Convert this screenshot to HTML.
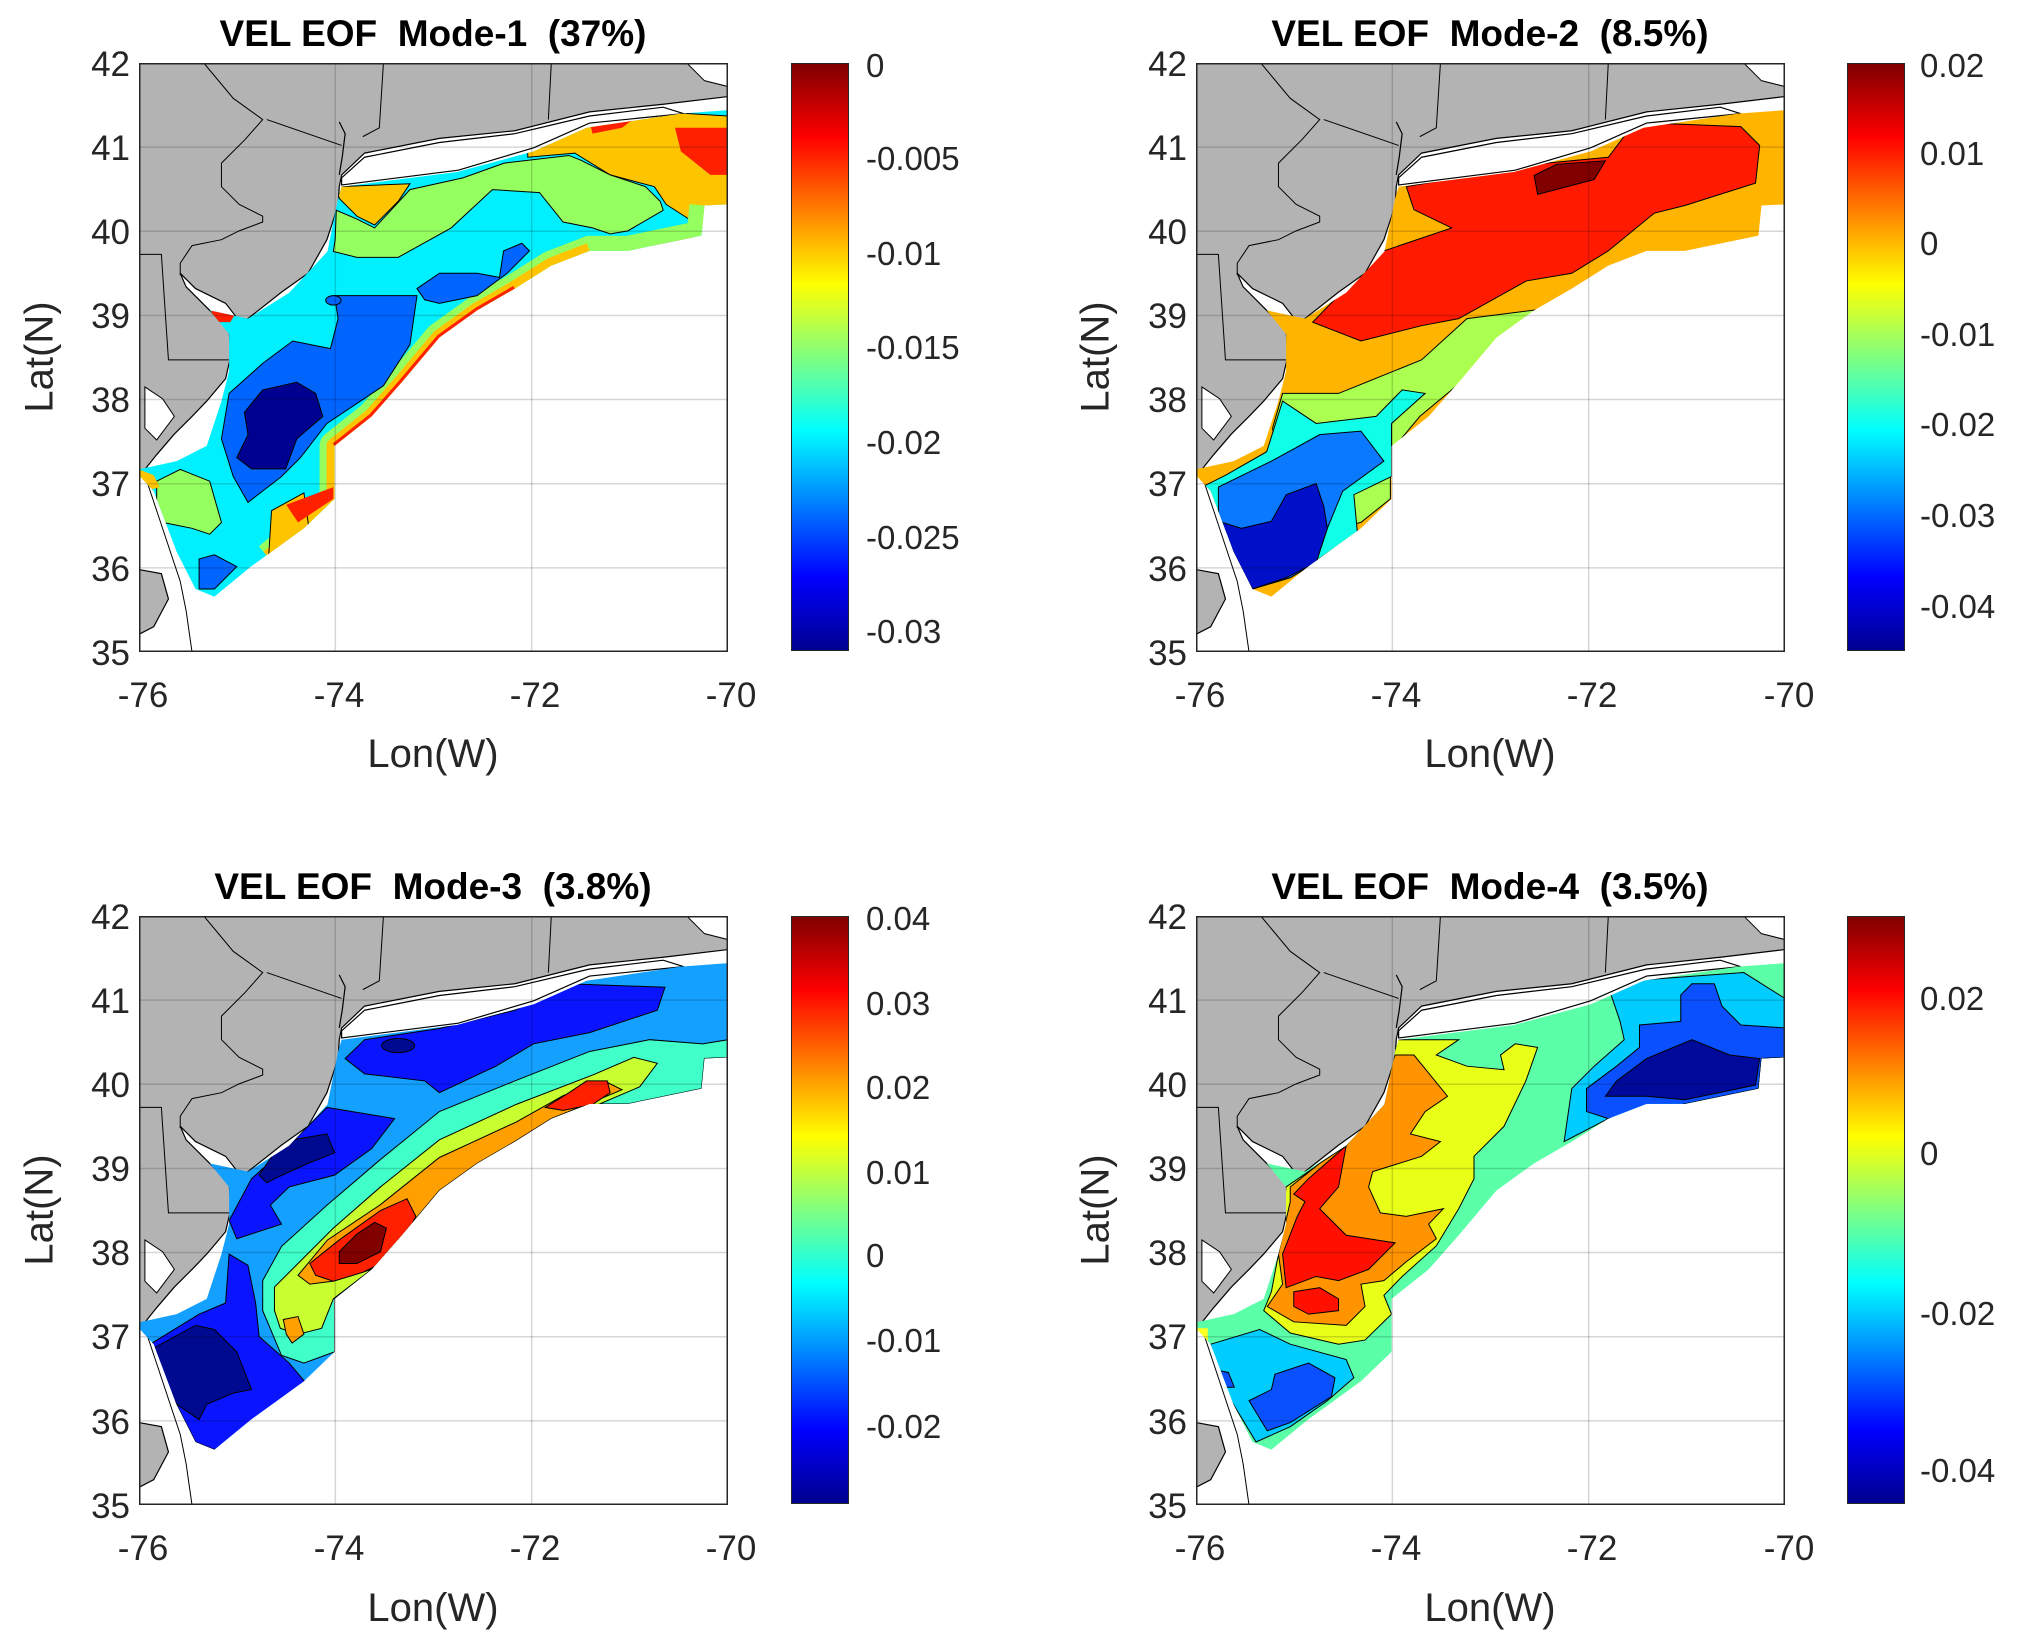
<!DOCTYPE html>
<html><head><meta charset="utf-8"><style>
body{margin:0;background:#fff;width:2024px;height:1648px;position:relative;overflow:hidden;font-family:"Liberation Sans",Arial,sans-serif;color:#262626}
.ax{position:absolute;width:589px;height:589px}
.ax svg{position:absolute;left:0;top:0;width:589px;height:589px}
svg *{vector-effect:non-scaling-stroke}
.title{position:absolute;font-weight:bold;font-size:37px;color:#000;white-space:nowrap;transform:translateX(-50%)}
.yt{position:absolute;font-size:35px;text-align:right;width:60px;transform:translateY(-50%)}
.xt{position:absolute;font-size:35px;transform:translateX(-50%)}
.cbt{position:absolute;font-size:33px;transform:translateY(-50%)}
.lon{position:absolute;font-size:40px;transform:translateX(-50%)}
.lat{position:absolute;font-size:40px;transform:translate(-50%,-50%) rotate(-90deg)}
.cb{position:absolute;width:56px;height:586px;border:1.5px solid #262626;background:linear-gradient(to top,#00008f 0%,#0000ff 12.5%,#00ffff 37.5%,#80ff80 50%,#ffff00 62.5%,#ff0000 87.5%,#800000 100%)}
</style></head><body>

<svg width="0" height="0" style="position:absolute">
<defs>
<clipPath id="oc"><polygon points="34.4,21 54,18.5 67,15 76,11 92,8.6 100,8 100,24 96,24.2 95.5,29.3 83,31.9 76.5,31.9 70,34.4 63.8,38.3 57.4,42 51,46.6 44.6,54.2 39.5,60 33.2,65 33.2,74 28,79 19,85.5 12.8,90.6 9.6,89.3 6.4,83 2.5,72.7 0,70 0,69 6.4,67.6 11.5,65 14,57.4 15.3,52.3 15.3,46 12,42 18.5,43.4 25.5,39 32,32 33.8,23"/></clipPath>
<g id="land">
<rect width="100" height="100" fill="#fff"/>
<polygon fill="#b3b3b3" stroke="#000" stroke-width="1.2" points="0,0 100,0 100,5.7 89,7 76.5,8.3 63.8,11.5 51,12.8 38.3,15.3 34.4,19 34,21 33.8,24.2 31.9,30 28.7,35.7 24.2,38.9 18.5,43.4 17.2,44 14.7,40.8 9.6,38.3 7,35.7 8,38 11.5,41.5 15.3,45.3 15.6,49.7 14.7,53.6 11.5,57.4 9,60 6,63 3,66.5 1,69 0,69.5"/>
<polygon fill="#fff" stroke="#000" stroke-width="1" points="93,0 100,0 100,4 96,3"/>
<polygon fill="#b3b3b3" stroke="#000" stroke-width="1.2" points="0,86 3.8,86.7 5,91 2.5,95.7 0,97"/>
<polygon fill="#fff" stroke="#000" stroke-width="1.2" points="34.4,19.5 38.3,16 51,13.5 63.8,12 76.5,9 89,7.5 92.5,8.6 76.5,10.2 67,14.4 54.2,18.2 34.4,20.7"/>
<polygon fill="#fff" stroke="#000" stroke-width="1" points="1,55 4,57 6,60 3,64 1,62"/>
<polyline fill="none" stroke="#000" stroke-width="1" points="21.7,9.6 34.4,14"/>
<polyline fill="none" stroke="#000" stroke-width="1.2" points="34,10 35,12 34.5,16 34,19"/>
<polyline fill="none" stroke="#000" stroke-width="1" points="41.5,0 40.8,11 38,12.5"/>
<polyline fill="none" stroke="#000" stroke-width="1" points="70,0 69.5,9.6"/>
<polyline fill="none" stroke="#000" stroke-width="1" points="0,32.5 3.8,32.5 5,50.4 15.3,50.4"/>
<polyline fill="none" stroke="#000" stroke-width="1" points="11,0 16,6 21,9.6 18,13 14,17 14,21 17,24 21,26 21,27 17,28.5 14,30 9,31 7,34 7,36"/>
<polyline fill="none" stroke="#000" stroke-width="1" points="1,70 3,76 5,82 7,88 8,93 9,100"/>
</g>
<g id="grid">
<g stroke="#000" stroke-opacity="0.16" stroke-width="1.5">
<line x1="33.33" y1="0" x2="33.33" y2="100"/><line x1="66.67" y1="0" x2="66.67" y2="100"/>
<line x1="0" y1="14.29" x2="100" y2="14.29"/><line x1="0" y1="28.57" x2="100" y2="28.57"/><line x1="0" y1="42.86" x2="100" y2="42.86"/><line x1="0" y1="57.14" x2="100" y2="57.14"/><line x1="0" y1="71.43" x2="100" y2="71.43"/><line x1="0" y1="85.71" x2="100" y2="85.71"/>
</g>
<rect x="0" y="0" width="100" height="100" fill="none" stroke="#262626" stroke-width="3"/>
</g>
</defs></svg>

<!-- Panel 1 -->
<div class="title" style="left:433px;top:13px">VEL EOF&nbsp; Mode-1&nbsp; (37%)</div>
<div class="ax" style="left:139px;top:63px">
<svg viewBox="0 0 100 100" preserveAspectRatio="none">
<use href="#land"/>
<g clip-path="url(#oc)" stroke="#000" stroke-width="1">
<rect width="100" height="100" fill="#00f0ff" stroke="none"/>
<polygon fill="#ffc400" points="66,15 76,9.5 92,8.5 100,9 100,28 96.5,28.5 89.5,24 87.5,21 80,19 74,15.3 66,16"/>
<polygon fill="#ffc400" points="33.5,21 46,20.5 44,23.5 40,27.5 37,26 34,23"/>
<polygon fill="#ff2000" stroke="none" points="91,11 100,11 100,19 97,19 92,15"/>
<polygon fill="#ff2000" stroke="none" points="76,8 86,8 82,11 77,12"/>
<polygon fill="#ff2000" stroke="none" points="64,12 70,11 68,14 64,14"/>
<polygon fill="#ff2000" stroke="none" points="84,30 92,28.5 95,30 88,31.5"/>
<polygon fill="#ff2000" stroke="none" points="12,41.5 17,41.5 15.5,44 13,44"/>
<polygon fill="#96ff60" points="33.3,30 33.5,25 37,26.5 40,28 46,21.5 55,19.5 62,17 73,15.7 75,16.5 80,19 86,21 88.5,23.5 89,25 83,28.5 80,29 77,28 72,27 68,22 60,21.5 53,28 44,33 37,33 33,32"/>
<polyline fill="none" stroke="#96ff60" stroke-width="30" stroke-linejoin="round" points="96,24.2 95.5,29.3 83,31.9 76.5,31.9 70,34.4 63.8,38.3 57.4,42 51,46.6 44.6,54.2 39.5,60 33.2,65 33.2,74 28,79 22,84"/>
<polyline fill="none" stroke="#ffc400" stroke-width="16" stroke-linejoin="round" points="76.5,31.9 70,34.4 63.8,38.3 57.4,42 51,46.6 44.6,54.2 39.5,60 33.2,65 33.2,74 28,79 22,84"/>
<polyline fill="none" stroke="#ff2000" stroke-width="6" stroke-linejoin="round" points="63.8,38.3 57.4,42 51,46.6 44.6,54.2 39.5,60 33.2,65"/>
<polygon fill="#ffc400" points="22.5,76 28,73 29,80 22,84"/>
<polygon fill="#ff2000" stroke="none" points="25,75 33,72 33,74 27,78"/>
<polygon fill="#0064ff" points="33.2,39.5 47.2,39.5 46,47.8 41.5,54.8 31.9,61.2 27.4,67 24.2,70.2 18.5,74.6 16,70.2 14,63.8 15.3,56.1 21,51 26.1,47.2 32.5,48.5 33.8,43.4"/>
<polygon fill="#0064ff" points="47.2,38.3 51,35.7 57.4,35.7 61.2,36.4 61.9,31.9 65,30.6 66.3,31.9 62.5,35.7 57.4,39.5 51,40.8 48.5,40.2"/>
<ellipse cx="33" cy="40.3" rx="1.3" ry="0.8" fill="#0064ff"/>
<polygon fill="#000090" points="17.9,59.3 21,55.5 26.8,54.2 30,56.1 31.2,60 26.8,63.8 24.9,68.9 19.1,68.9 16.6,67 18.5,63.1"/>
<polygon fill="#0064ff" points="10.2,84.2 12.8,83.5 16.6,85.5 12.8,89.3 10.2,89.3"/>
<polygon fill="#96ff60" points="3,71 7,69 12,71 14,78 12,80 9,79 4,78 3,75"/>
<polygon fill="#ffc400" stroke="none" points="0,69 2.5,70 3.5,72 0,73"/>
</g>
<use href="#grid"/>
</svg></div>
<div class="cb" style="left:791px;top:63px"></div>

<!-- Panel 2 -->
<div class="title" style="left:1490px;top:13px">VEL EOF&nbsp; Mode-2&nbsp; (8.5%)</div>
<div class="ax" style="left:1196px;top:63px">
<svg viewBox="0 0 100 100" preserveAspectRatio="none">
<use href="#land"/>
<g clip-path="url(#oc)" stroke="#000" stroke-width="1">
<rect width="100" height="100" fill="#ffb400" stroke="none"/>
<polygon fill="#ff1a00" points="35.7,21 57.4,17.2 70,16 75.3,9 77.8,10.2 92.5,10.8 95.7,14 95,20.4 83,24.2 77.8,25.5 70,31.9 63.8,35.7 56.1,37 44.6,43.4 38.3,44.6 28,47.2 19.8,44 24.2,39.5 31.9,31.9 43.4,28 37,24.9"/>
<polygon fill="#800000" points="57.4,19.1 61.2,17.2 69.5,16.6 67.6,19.8 58,22.3"/>
<polygon fill="#aaff50" points="14.7,56.1 24.2,56.1 38.3,50.4 46,43.4 61,41.5 61,43 55,46 50,50 44,55 38,60 33,66 33,74 28,78 24,79 15,73.5 14,69 13,62"/>
<polygon fill="#10ffe8" points="14.7,57.4 20.4,61.2 30.6,60 35,55.5 38.9,56.1 33.2,61.2 33.2,70.2 26.8,73.3 27.4,79.7 19,85.5 12,88 4,78 1,72 5,70 12,66"/>
<polygon fill="#0a78ff" points="3.8,72 12.8,67.6 21,63.1 28,62.5 31.9,67.6 24.9,72.7 22.3,79 20.4,84.8 16,87.4 9.6,89.3 3.8,77.8"/>
<polygon fill="#0010c8" points="3.8,77.8 7.7,79 12.8,77.8 15.3,73.3 20.4,71.4 21.7,75.3 22.3,79 20.4,84.8 15.3,87.4 9.6,89.3 6.4,84.2"/>
</g>
<use href="#grid"/>
</svg></div>
<div class="cb" style="left:1847px;top:63px"></div>

<!-- Panel 3 -->
<div class="title" style="left:433px;top:866px">VEL EOF&nbsp; Mode-3&nbsp; (3.8%)</div>
<div class="ax" style="left:139px;top:916px">
<svg viewBox="0 0 100 100" preserveAspectRatio="none">
<use href="#land"/>
<g clip-path="url(#oc)" stroke="#000" stroke-width="1">
<rect width="100" height="100" fill="#14a0ff" stroke="none"/>
<polygon fill="#0a14ff" points="35,24.2 38.3,21 51,19.1 63.8,16 72.7,11.5 89.3,12.1 88,16 76.5,19.8 67,21.7 60.6,25.5 51,30 48.5,28 38.3,26.8"/>
<ellipse cx="44" cy="22" rx="2.8" ry="1.2" fill="#000a90"/>
<polygon fill="#0a14ff" points="31.9,32.5 43.4,34.4 39.5,39.5 33.2,44 25.5,46 22.3,49.1 24.2,52.3 16.6,54.8 15.3,51.7 19.1,44.6 25.5,38.9"/>
<polygon fill="#000a90" points="20.4,44 24.2,38.3 31.9,37 33.2,40.2 28.7,42 23,44.6 21.7,45.3"/>
<polygon fill="#0a14ff" points="15.3,57.4 18.5,59.3 19.8,65.7 20.4,71.4 25.5,75.9 28.7,79.7 19.1,86.7 12.8,90.6 9.6,89.3 6.4,83 1.9,72.7 10.2,67.6 14.7,65.7"/>
<polygon fill="#000a90" points="2.6,73.3 9.6,69.5 12.8,70.2 16.6,74 19.1,80.4 16,81 11.5,82.9 10.2,85.5 6.4,82.9 3.2,77.8"/>
<polygon fill="#40ffc8" points="21,67 21,61.9 24.2,56.1 31.9,49.1 40.8,41.5 51,33.2 63.8,28 76.5,23 86.7,21 95.7,21.7 100,21 100,24 96,24.2 95.5,29.3 83,31.9 76.5,31.9 70,34.4 63.8,38.3 57.4,42 51,46.6 44.6,54.2 39.5,60 33.2,65 33.2,74 28,75.9 24.2,74.6"/>
<polygon fill="#c8ff30" points="23,67 23,63 27,59 33,53 41,46 51,38 64,32 77,27 84,24 88,25 85,29 78,32 70,34.4 63.8,38.3 57.4,42 51,46.6 44.6,54.2 39.5,60 33,65 31,70 27,71 24,70"/>
<polygon fill="#ffa000" points="27,61 32,55 41,49 51,41 64,35 72,30.5 79,28 82,29.5 76,32 70,34.4 63.8,38.3 57.4,42 51,46.6 44.6,54.2 39.5,60 33,62 29,62.5"/>
<polygon fill="#ffa000" points="24.5,68.5 27,68 28,71 26,72.5 25,71"/>
<polygon fill="#ff2000" points="29,59 34,55 41,50 45.5,48 47,51 45,55 42,58.5 38,60.5 33,62 30,61"/>
<polygon fill="#ff2000" points="69,32.5 73,30 76,28 79.5,28 80,30 77,32 72,33"/>
<polygon fill="#800000" points="34,57 37,54 40,52 42,53 41,57 37,59 34,59"/>
</g>
<use href="#grid"/>
</svg></div>
<div class="cb" style="left:791px;top:916px"></div>

<!-- Panel 4 -->
<div class="title" style="left:1490px;top:866px">VEL EOF&nbsp; Mode-4&nbsp; (3.5%)</div>
<div class="ax" style="left:1196px;top:916px">
<svg viewBox="0 0 100 100" preserveAspectRatio="none">
<use href="#land"/>
<g clip-path="url(#oc)" stroke="#000" stroke-width="1">
<rect width="100" height="100" fill="#5affa8" stroke="none"/>
<polygon fill="#e8ff18" points="33.2,21 44.6,21 40.8,23.6 46,25.5 52.3,26.1 51.7,23.6 54.2,21.7 58,22.3 56,28 52.3,35.7 47.2,40.8 47.2,44.6 44.6,49.7 40.8,56 35,61.2 31.9,64.4 33.2,67.6 28.7,72 24.2,72.7 16,70.8 11.5,67 12.8,63.8 14,57.4 15.3,46 25.5,39 32,32"/>
<polygon fill="#ff9400" points="33.8,23.6 37,23.6 42.7,30.6 38.9,33.2 36.4,37 41.5,38.3 38.3,40.8 30,43.4 29.3,46 31.3,50.4 35.7,51 42,49.7 39.5,52.3 40.8,54.8 35.7,58.7 31.9,61.9 28,62.5 28.7,66.3 25.5,69.5 16.6,68.9 12.1,66.3 14.7,62.5 14,57.4 16,48.5 16,46 21,42 25.5,39 30.6,31.9"/>
<polygon fill="#ff1000" points="25.5,39 24.2,46 21,49.7 25.5,54.2 33.8,55.5 29.3,60 24.2,61.9 20.4,61.2 15.3,63.1 14.7,57.4 17.2,51 18.5,48.5 16.6,47.2 19.1,44.6"/>
<polygon fill="#ff1000" points="16.6,63.8 21,63.1 24.2,65 24.2,67 19.1,67.6 16.6,66.3"/>
<polygon fill="#00ccff" points="2.5,72.7 10.8,70.2 16,72.7 25.5,75.3 26.8,78.4 22.3,82.3 16,86.7 10.2,89.3 6.4,83 2.5,76.5"/>
<polygon fill="#0a50ff" points="13.4,77.8 19.1,75.9 23.6,78.4 23,81.6 16,86 12.1,87.4 9,82.3 12.8,80.4"/>
<polygon fill="#0a50ff" points="3,77 5.5,77.5 6.5,80 4.5,80"/>
<polygon fill="#00ccff" points="62.5,38.3 63.8,29.3 67.6,25.5 72.7,21 72,17.9 70,12 76.5,10.8 93,9.6 100,14 100,24 96,24.2 95.5,29.3 83,31.9 70,34.4"/>
<polygon fill="#0a50ff" points="66.3,29.3 71.4,25.5 75.3,22.3 75.3,18.5 82.3,17.9 82.3,13.4 84.2,11.5 88,11.5 89.3,15.3 92.5,18.5 100,19 100,24 96,24.2 95.5,29.3 83,31.9 70,34.4 66.3,33.2"/>
<polygon fill="#000a9a" points="69.5,30.6 71.4,28 76.5,24.2 84.2,21 90.6,23.6 95.7,24.2 95,28.7 83,31.2 76.5,30.6"/>
<polygon fill="#ffff20" stroke="none" points="0,70 2,70 2,73 0,73"/>
</g>
<use href="#grid"/>
</svg></div>
<div class="cb" style="left:1847px;top:916px"></div>

<!-- Y tick labels -->
<div class="yt" style="left:70px;top:65px">42</div><div class="yt" style="left:70px;top:149px">41</div><div class="yt" style="left:70px;top:233px">40</div><div class="yt" style="left:70px;top:317px">39</div><div class="yt" style="left:70px;top:401px">38</div><div class="yt" style="left:70px;top:485px">37</div><div class="yt" style="left:70px;top:570px">36</div><div class="yt" style="left:70px;top:654px">35</div>
<div class="yt" style="left:1127px;top:65px">42</div><div class="yt" style="left:1127px;top:149px">41</div><div class="yt" style="left:1127px;top:233px">40</div><div class="yt" style="left:1127px;top:317px">39</div><div class="yt" style="left:1127px;top:401px">38</div><div class="yt" style="left:1127px;top:485px">37</div><div class="yt" style="left:1127px;top:570px">36</div><div class="yt" style="left:1127px;top:654px">35</div>
<div class="yt" style="left:70px;top:918px">42</div><div class="yt" style="left:70px;top:1002px">41</div><div class="yt" style="left:70px;top:1086px">40</div><div class="yt" style="left:70px;top:1170px">39</div><div class="yt" style="left:70px;top:1254px">38</div><div class="yt" style="left:70px;top:1338px">37</div><div class="yt" style="left:70px;top:1423px">36</div><div class="yt" style="left:70px;top:1507px">35</div>
<div class="yt" style="left:1127px;top:918px">42</div><div class="yt" style="left:1127px;top:1002px">41</div><div class="yt" style="left:1127px;top:1086px">40</div><div class="yt" style="left:1127px;top:1170px">39</div><div class="yt" style="left:1127px;top:1254px">38</div><div class="yt" style="left:1127px;top:1338px">37</div><div class="yt" style="left:1127px;top:1423px">36</div><div class="yt" style="left:1127px;top:1507px">35</div>

<!-- X tick labels -->
<div class="xt" style="left:143px;top:676px">-76</div><div class="xt" style="left:339px;top:676px">-74</div><div class="xt" style="left:535px;top:676px">-72</div><div class="xt" style="left:731px;top:676px">-70</div>
<div class="xt" style="left:1200px;top:676px">-76</div><div class="xt" style="left:1396px;top:676px">-74</div><div class="xt" style="left:1592px;top:676px">-72</div><div class="xt" style="left:1789px;top:676px">-70</div>
<div class="xt" style="left:143px;top:1529px">-76</div><div class="xt" style="left:339px;top:1529px">-74</div><div class="xt" style="left:535px;top:1529px">-72</div><div class="xt" style="left:731px;top:1529px">-70</div>
<div class="xt" style="left:1200px;top:1529px">-76</div><div class="xt" style="left:1396px;top:1529px">-74</div><div class="xt" style="left:1592px;top:1529px">-72</div><div class="xt" style="left:1789px;top:1529px">-70</div>

<div class="lon" style="left:433px;top:732px">Lon(W)</div><div class="lon" style="left:1490px;top:732px">Lon(W)</div>
<div class="lon" style="left:433px;top:1586px">Lon(W)</div><div class="lon" style="left:1490px;top:1586px">Lon(W)</div>
<div class="lat" style="left:40px;top:357px">Lat(N)</div><div class="lat" style="left:1096px;top:357px">Lat(N)</div>
<div class="lat" style="left:40px;top:1210px">Lat(N)</div><div class="lat" style="left:1096px;top:1210px">Lat(N)</div>

<!-- colorbar labels -->
<div class="cbt" style="left:866px;top:66px">0</div><div class="cbt" style="left:866px;top:159px">-0.005</div><div class="cbt" style="left:866px;top:254px">-0.01</div><div class="cbt" style="left:866px;top:348px">-0.015</div><div class="cbt" style="left:866px;top:443px">-0.02</div><div class="cbt" style="left:866px;top:538px">-0.025</div><div class="cbt" style="left:866px;top:632px">-0.03</div>
<div class="cbt" style="left:1920px;top:66px">0.02</div><div class="cbt" style="left:1920px;top:154px">0.01</div><div class="cbt" style="left:1920px;top:244px">0</div><div class="cbt" style="left:1920px;top:335px">-0.01</div><div class="cbt" style="left:1920px;top:425px">-0.02</div><div class="cbt" style="left:1920px;top:516px">-0.03</div><div class="cbt" style="left:1920px;top:607px">-0.04</div>
<div class="cbt" style="left:866px;top:919px">0.04</div><div class="cbt" style="left:866px;top:1004px">0.03</div><div class="cbt" style="left:866px;top:1088px">0.02</div><div class="cbt" style="left:866px;top:1173px">0.01</div><div class="cbt" style="left:866px;top:1256px">0</div><div class="cbt" style="left:866px;top:1341px">-0.01</div><div class="cbt" style="left:866px;top:1427px">-0.02</div>
<div class="cbt" style="left:1920px;top:999px">0.02</div><div class="cbt" style="left:1920px;top:1154px">0</div><div class="cbt" style="left:1920px;top:1314px">-0.02</div><div class="cbt" style="left:1920px;top:1471px">-0.04</div>

</body></html>
